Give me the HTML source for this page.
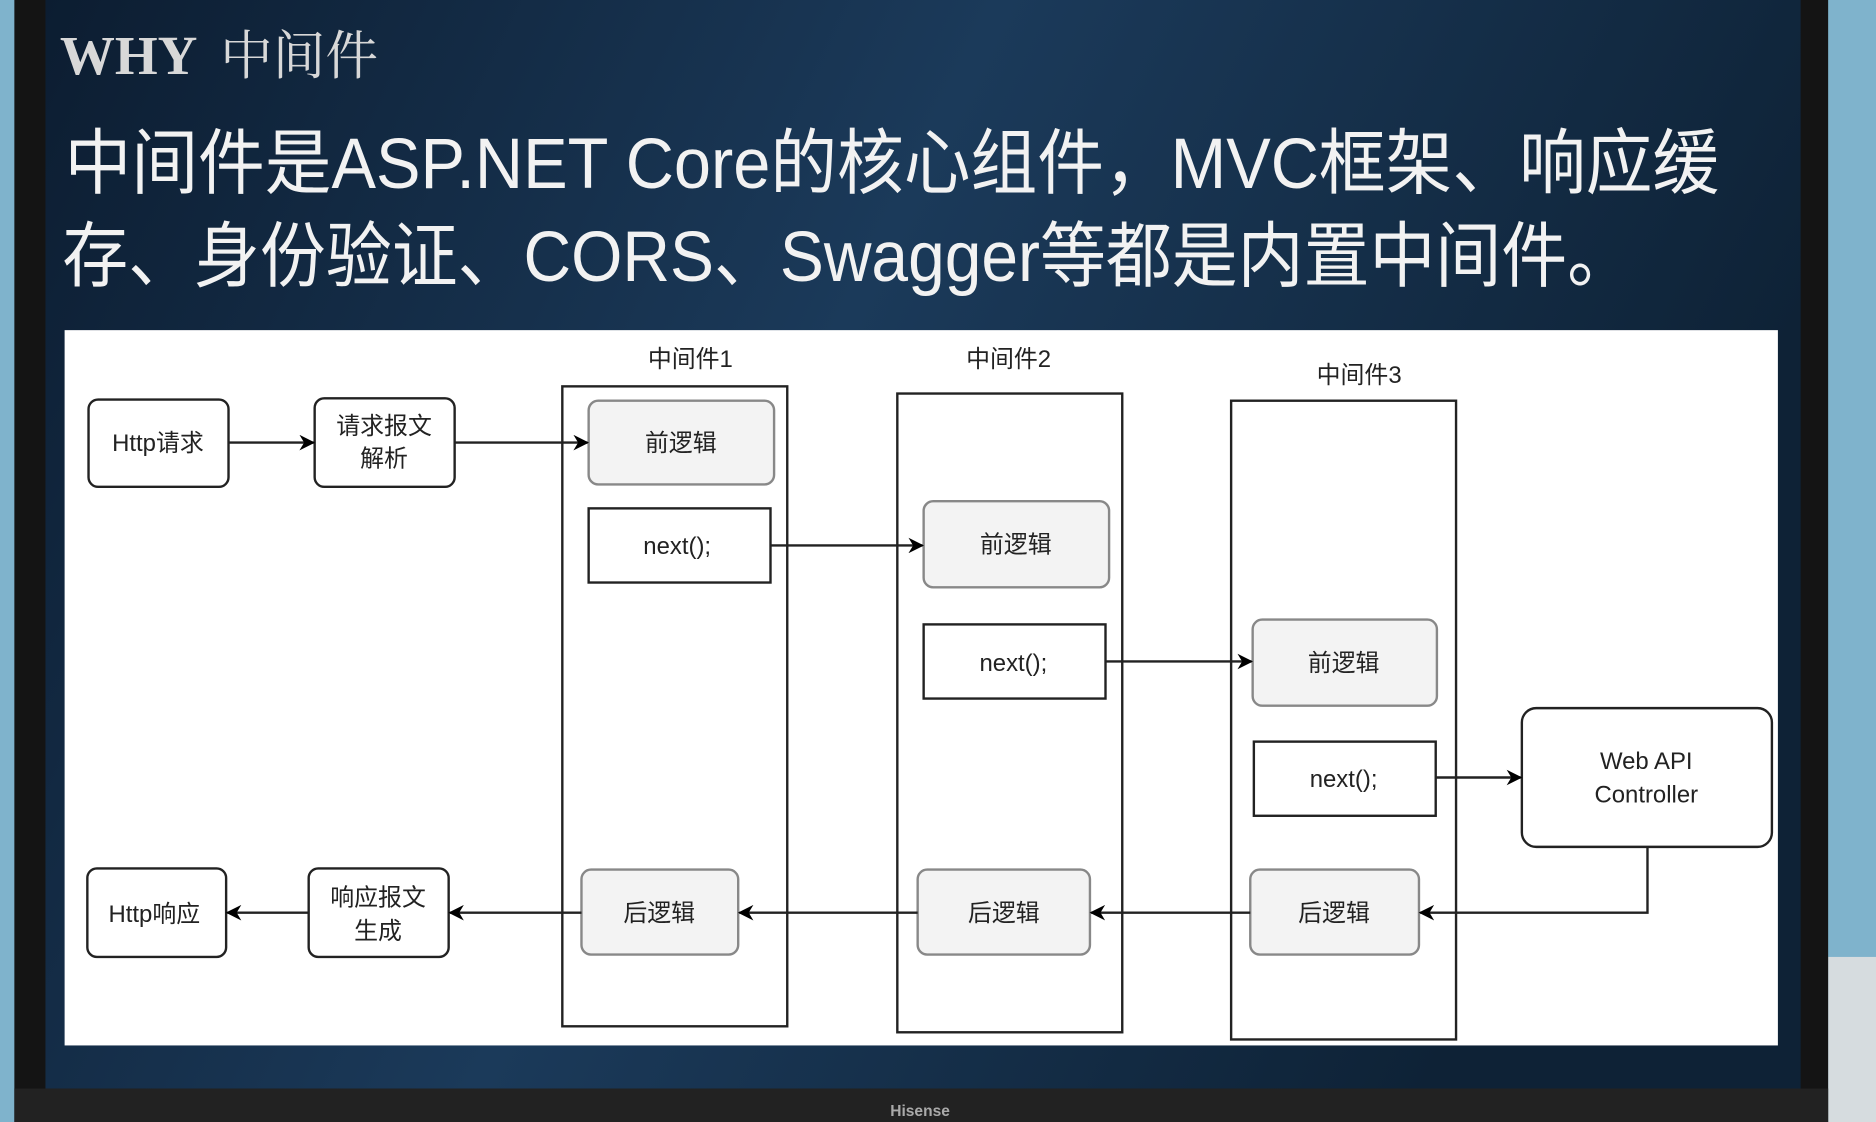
<!DOCTYPE html>
<html><head><meta charset="utf-8"><style>
html,body{margin:0;padding:0;width:1876px;height:1122px;overflow:hidden;background:#000}
svg{display:block}
</style></head><body>
<svg width="1876" height="1122" viewBox="0 0 1568 938" preserveAspectRatio="none" xmlns="http://www.w3.org/2000/svg">
<defs>
<linearGradient id="bg" x1="0" y1="0" x2="1" y2="0.3">
<stop offset="0" stop-color="#0c1d31"/><stop offset="0.5" stop-color="#1b3a5a"/><stop offset="1" stop-color="#0e2236"/>
</linearGradient>
<marker id="ar" viewBox="0 0 10 10" refX="9" refY="5" markerWidth="13" markerHeight="13" orient="auto" markerUnits="userSpaceOnUse">
<path d="M0,0 L10,5 L0,10 L3,5 z" fill="#000"/></marker>
</defs>
<rect x="0" y="0" width="1568" height="938" fill="#7fb3cc"/>
<rect x="1528" y="800" width="40" height="138" fill="#d6dcdf"/>
<rect x="12" y="0" width="1516" height="938" fill="#141414"/>
<rect x="38" y="0" width="1467" height="910" fill="url(#bg)"/>
<rect x="12" y="910" width="1516" height="28" fill="#222"/>
<text x="769" y="933" font-family="Liberation Sans,sans-serif" font-size="13" font-weight="bold" fill="#aaa" text-anchor="middle">Hisense</text>
<g font-family="Liberation Serif,'Noto Serif CJK SC',serif" fill="#d8d8d8">
<text x="50" y="62" font-size="46" font-weight="bold">WHY</text>
<text x="184" y="62" font-size="44">中间件</text>
</g>
<g font-family="'Liberation Sans','Noto Sans CJK SC',sans-serif" fill="#f2f2f2" font-size="60">
<text x="54" y="157" textLength="1383" lengthAdjust="spacingAndGlyphs">中间件是ASP.NET Core的核心组件，MVC框架、响应缓</text>
<text x="52" y="235" textLength="1313" lengthAdjust="spacingAndGlyphs">存、身份验证、CORS、Swagger等都是内置中间件。</text>
</g>
<rect x="54" y="276" width="1432" height="598" fill="#fff"/>
<g font-family="'Liberation Sans','Noto Sans CJK SC',sans-serif" font-size="20" fill="#222" text-anchor="middle" stroke="#222" stroke-width="2">
<rect x="470" y="323" width="188" height="535" fill="none"/>
<rect x="750" y="329" width="188" height="534" fill="none"/>
<rect x="1029" y="335" width="188" height="534" fill="none"/>
<rect x="74" y="334" width="117" height="73" rx="8" fill="#fff"/>
<rect x="263" y="333" width="117" height="74" rx="8" fill="#fff"/>
<rect x="73" y="726" width="116" height="74" rx="8" fill="#fff"/>
<rect x="258" y="726" width="117" height="74" rx="8" fill="#fff"/>
<rect x="1272" y="592" width="209" height="116" rx="12" fill="#fff"/>
<g fill="#f3f3f3" stroke="#888">
<rect x="492" y="335" width="155" height="70" rx="8"/>
<rect x="772" y="419" width="155" height="72" rx="8"/>
<rect x="1047" y="518" width="154" height="72" rx="8"/>
<rect x="486" y="727" width="131" height="71" rx="8"/>
<rect x="767" y="727" width="144" height="71" rx="8"/>
<rect x="1045" y="727" width="141" height="71" rx="8"/>
</g>
<g fill="#fff">
<rect x="492" y="425" width="152" height="62"/>
<rect x="772" y="522" width="152" height="62"/>
<rect x="1048" y="620" width="152" height="62"/>
</g>
<g fill="none" marker-end="url(#ar)">
<path d="M191,370 H262"/>
<path d="M380,370 H491"/>
<path d="M644,456 H771"/>
<path d="M924,553 H1046"/>
<path d="M1200,650 H1271"/>
<path d="M1377,708 V763 H1187"/>
<path d="M1045,763 H912"/>
<path d="M767,763 H618"/>
<path d="M486,763 H376"/>
<path d="M258,763 H190"/>
</g>
<g stroke="none">
<text x="577" y="307">中间件1</text>
<text x="843" y="307">中间件2</text>
<text x="1136" y="320">中间件3</text>
<text x="132" y="377">Http请求</text>
<text x="321" y="363">请求报文</text>
<text x="321" y="390">解析</text>
<text x="569" y="377">前逻辑</text>
<text x="566" y="463">next();</text>
<text x="849" y="462">前逻辑</text>
<text x="847" y="561">next();</text>
<text x="1123" y="561">前逻辑</text>
<text x="1123" y="658">next();</text>
<text x="1376" y="643">Web API</text>
<text x="1376" y="671">Controller</text>
<text x="129" y="771">Http响应</text>
<text x="316" y="757">响应报文</text>
<text x="316" y="785">生成</text>
<text x="551" y="770">后逻辑</text>
<text x="839" y="770">后逻辑</text>
<text x="1115" y="770">后逻辑</text>
</g>
</g>
</svg>
</body></html>
